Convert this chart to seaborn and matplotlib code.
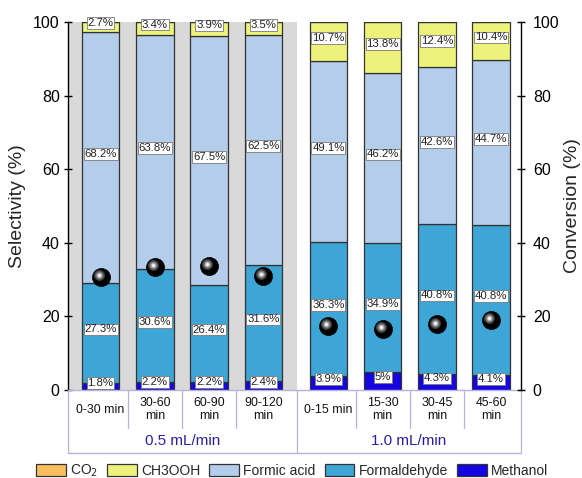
import numpy as np
import matplotlib
matplotlib.use("Agg")
import matplotlib.pyplot as plt
import matplotlib.transforms as mtransforms
from matplotlib.patches import Patch
import seaborn as sns

# ---- data -------------------------------------------------------------
periods = ["0-30 min", "30-60\nmin", "60-90\nmin", "90-120\nmin",
           "0-15 min", "15-30\nmin", "30-45\nmin", "45-60\nmin"]
flow_groups = ["0.5 mL/min", "1.0 mL/min"]
methanol = [1.8, 2.2, 2.2, 2.4, 3.9, 5.0, 4.3, 4.1]
formaldehyde = [27.3, 30.6, 26.4, 31.6, 36.3, 34.9, 40.8, 40.8]
formic_acid = [68.2, 63.8, 67.5, 62.5, 49.1, 46.2, 42.6, 44.7]
ch3ooh = [2.7, 3.4, 3.9, 3.5, 10.7, 13.8, 12.4, 10.4]
co2 = [0, 0, 0, 0, 0, 0, 0, 0]
conversion = [30.7, 33.4, 33.7, 31.0, 17.4, 16.6, 17.9, 19.0]

# ---- style ------------------------------------------------------------
sns.set_theme(style="ticks")
plt.rcParams["font.family"] = ["Liberation Sans", "DejaVu Sans"]

colors = {
    "CO$_2$": "#F9BE5E",
    "CH3OOH": "#EDF27B",
    "Formic acid": "#B4CDEB",
    "Formaldehyde": "#3DA6D6",
    "Methanol": "#1505E0",
}
line_col = "#B9B2E0"
group_col = "#2A1F9E"

# bar positions: two groups of four with a wider gap between groups
pos = np.array([0, 1, 2, 3, 4.2, 5.2, 6.2, 7.2])
xmin, xmax = -0.6, 7.75
split = 3.62

fig = plt.figure(figsize=(5.82, 4.78), dpi=100)
ax = fig.add_axes([68 / 582, 88 / 478, 453 / 582, 368 / 478])

ax.axvspan(xmin, split, color="#D9D9D9", zorder=0, lw=0)

stack = [("Methanol", methanol), ("Formaldehyde", formaldehyde),
         ("Formic acid", formic_acid), ("CH3OOH", ch3ooh), ("CO$_2$", co2)]
bottom = np.zeros(len(pos))
for name, vals in stack:
    vals = np.asarray(vals, dtype=float)
    sns.barplot(x=pos, y=vals, bottom=bottom, native_scale=True, width=0.69,
                color=colors[name], saturation=1, edgecolor="#333333",
                linewidth=0.9, ax=ax, zorder=2)
    if name != "CO$_2$":
        for xi, b, v in zip(pos, bottom, vals):
            ax.text(xi, b + v / 2 + 1.0, f"{v:g}%", ha="center", va="center",
                    fontsize=8.2, color="#222222", zorder=5, clip_on=False,
                    bbox=dict(boxstyle="square,pad=0.07", fc="white",
                              ec="#7A7A7A", lw=0.6))
    bottom = bottom + vals

ax.set_xlim(xmin, xmax)
ax.set_ylim(0, 100)
ax.set_yticks(np.arange(0, 101, 20))
ax.set_xticks([])
ax.set_xlabel("")
ax.set_ylabel("Selectivity (%)", fontsize=14, labelpad=5)
ax.tick_params(axis="y", direction="inout", length=6, width=1, labelsize=11.5,
               pad=3, colors="black")
for s in ("top", "right"):
    ax.spines[s].set_visible(False)
ax.spines["left"].set_color("black")
ax.spines["left"].set_linewidth(1)
ax.spines["bottom"].set_color(line_col)
ax.spines["bottom"].set_linewidth(1)

# ---- conversion on a twin axis ----------------------------------------
ax2 = ax.twinx()
ax2.set_ylim(0, 100)
ax2.set_yticks(np.arange(0, 101, 20))
sns.scatterplot(x=pos, y=conversion, ax=ax2, s=13 ** 2, color="black",
                edgecolor="black", linewidth=0.5, zorder=6, legend=False)
# glossy highlight on each sphere
for size, col in [(8, "#3a3a3a"), (6, "#6e6e6e"), (4.2, "#a8a8a8"),
                  (2.6, "#e0e0e0"), (1.4, "white")]:
    tr = mtransforms.offset_copy(ax2.transData, fig=fig, x=-2.0, y=1.6,
                                 units="dots")
    ax2.scatter(pos, conversion, s=size ** 2, color=col, lw=0,
                transform=tr, zorder=7)
ax2.set_xlim(xmin, xmax)
ax2.set_ylabel("Conversion (%)", fontsize=14, labelpad=3)
ax2.tick_params(axis="y", direction="inout", length=6, width=1, labelsize=11.5,
                pad=5.5, colors="black")
for s in ("top", "left", "bottom"):
    ax2.spines[s].set_visible(False)
ax2.spines["right"].set_color("black")
ax2.spines["right"].set_linewidth(1)

# ---- category table below the axis ------------------------------------
trans = mtransforms.blended_transform_factory(ax.transData, ax.transAxes)
short_drop, long_drop = -0.103, -0.171
mids = [(a + b) / 2 for a, b in zip(pos[:-1], pos[1:])]
for i, m in enumerate(mids):
    if i == 3:
        continue
    ax.plot([m, m], [0, short_drop], transform=trans, color=line_col,
            lw=0.9, clip_on=False)
for xv in (xmin, split, xmax):
    ax.plot([xv, xv], [0, long_drop], transform=trans, color=line_col,
            lw=0.9, clip_on=False)
ax.plot([xmin, xmax], [long_drop, long_drop], transform=trans,
        color=line_col, lw=1.0, clip_on=False)

for xi, lab in zip(pos, periods):
    ax.text(xi, -0.053, lab, transform=trans, ha="center", va="center",
            fontsize=8.9, linespacing=1.15, color="#111111")
ax.text((xmin + split) / 2, -0.139, flow_groups[0], transform=trans,
        ha="center", va="center", fontsize=11, color=group_col)
ax.text((split + xmax) / 2, -0.139, flow_groups[1], transform=trans,
        ha="center", va="center", fontsize=11, color=group_col)

# ---- legend -----------------------------------------------------------
handles = [Patch(facecolor=c, edgecolor="#333333", lw=0.9, label=n)
           for n, c in colors.items()]
fig.legend(handles=handles, loc="center", bbox_to_anchor=(292 / 582, 1 - 471 / 478),
           ncol=5, frameon=False, fontsize=10, handlelength=2.15,
           handleheight=0.9, handletextpad=0.3, columnspacing=0.65)

fig.savefig("out.png", dpi=100)
